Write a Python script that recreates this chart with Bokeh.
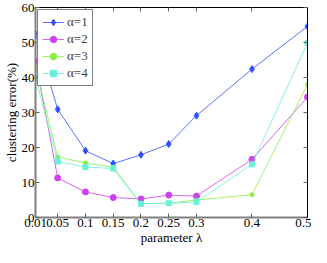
from bokeh.plotting import figure
from bokeh.models import LinearAxis, FixedTicker, Range1d, Legend, LegendItem, CustomJSTickFormatter
from bokeh.embed import file_html
from bokeh.resources import INLINE

lam = [0.01, 0.05, 0.1, 0.15, 0.2, 0.25, 0.3, 0.4, 0.5]
a1 = [52.5, 30.9, 19.1, 15.4, 17.9, 21.0, 29.1, 42.4, 54.6]
a2 = [44.7, 11.3, 7.3, 5.7, 5.3, 6.4, 6.1, 16.6, 34.4]
a3 = [42.8, 17.3, 15.6, 14.4, 3.9, 4.1, 5.0, 6.5, 38.0]
a4 = [40.0, 16.0, 14.4, 14.0, 3.9, 4.1, 4.4, 15.2, 49.9]
labels = ["\u03b1=1", "\u03b1=2", "\u03b1=3", "\u03b1=4"]
xticks = [0.01, 0.05, 0.1, 0.15, 0.2, 0.25, 0.3, 0.4, 0.5]
yticks = [0, 10, 20, 30, 40, 50, 60]

FONT = "Liberation Serif"

p = figure(width=311, height=247, output_backend="svg", toolbar_location=None,
           x_range=Range1d(0.01, 0.5), y_range=Range1d(0, 60),
           min_border_left=0, min_border_right=4, min_border_top=7, min_border_bottom=0)
p.xgrid.visible = False
p.ygrid.visible = False
p.outline_line_color = "black"
p.background_fill_color = "white"

xlab = {t: ("%g" % t) for t in xticks}
p.xaxis.ticker = FixedTicker(ticks=xticks)
p.xaxis.major_label_overrides = xlab
p.yaxis.ticker = FixedTicker(ticks=yticks)
for ax in p.xaxis + p.yaxis:
    ax.major_tick_in = 4
    ax.major_tick_out = 0
    ax.minor_tick_in = 0
    ax.minor_tick_out = 0
    ax.axis_line_color = "#808080"
    ax.axis_line_width = 2
    ax.major_tick_line_color = "#606060"
    ax.major_label_text_font = FONT
    ax.major_label_text_font_size = "13px"
    ax.major_label_text_color = "black"
    ax.axis_label_text_font = FONT
    ax.axis_label_text_font_size = "13px"
    ax.axis_label_text_font_style = "normal"
    ax.axis_label_text_color = "black"
    ax.major_label_standoff = 1
    ax.axis_label_standoff = 0
p.xaxis.axis_label = "parameter \u03bb"
p.yaxis.axis_label = "clustering error(%)"

blank = CustomJSTickFormatter(code="return ''")
top = LinearAxis(ticker=FixedTicker(ticks=xticks), formatter=blank, major_label_standoff=0,
                 major_tick_in=4, major_tick_out=0, minor_tick_in=0, minor_tick_out=0,
                 axis_line_color="black", major_tick_line_color="#606060")
right = LinearAxis(ticker=FixedTicker(ticks=yticks), formatter=blank, major_label_standoff=0,
                   major_tick_in=4, major_tick_out=0, minor_tick_in=0, minor_tick_out=0,
                   axis_line_color="black", major_tick_line_color="#606060")
p.add_layout(top, "above")
p.add_layout(right, "right")

colors = ["#3050ff", "#cc40f0", "#88ee44", "#66f0d8"]
markers = ["diamond", "circle", "circle", "square"]
sizes = [7, 6, 4, 5]
items = []
for ys, c, m, s, lab in zip([a1, a2, a3, a4], colors, markers, sizes, labels):
    r1 = p.line(lam, ys, line_color=c, line_width=1, line_alpha=0.8)
    r2 = p.scatter(lam, ys, marker=m, size=s, fill_color=c, line_color=c)
    items.append(LegendItem(label=lab, renderers=[r1, r2]))

leg = Legend(items=items, location="top_left", border_line_color="black",
             label_text_font=FONT, label_text_font_size="13px",
             glyph_width=22, glyph_height=16, label_height=16, spacing=1,
             padding=4, margin=2, label_standoff=3, background_fill_alpha=1)
p.add_layout(leg)

open("out.html", "w").write(file_html(p, INLINE))
